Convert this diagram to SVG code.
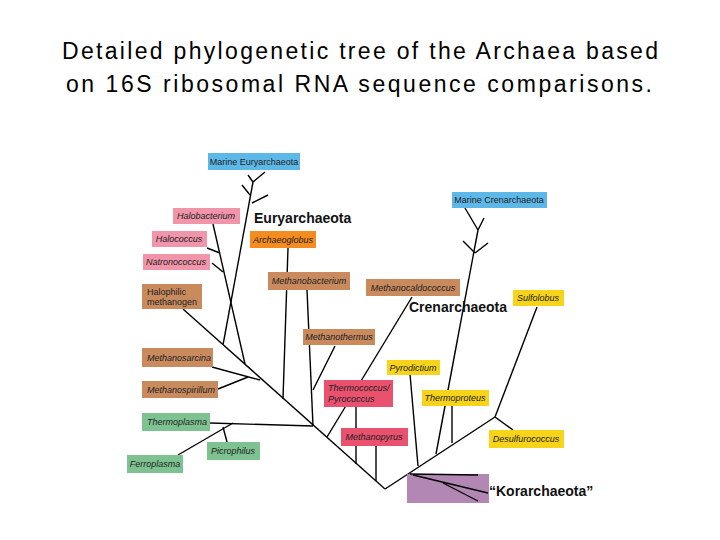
<svg xmlns="http://www.w3.org/2000/svg" width="720" height="540" viewBox="0 0 720 540">
<style>
.t{font-family:"Liberation Sans",Arial,sans-serif;fill:#000}
.b{font-family:"Liberation Sans",Arial,sans-serif;font-size:9px;font-style:italic;fill:#222}
.n{font-family:"Liberation Sans",Arial,sans-serif;font-size:9px;fill:#222}
.g{font-family:"Liberation Sans",Arial,sans-serif;font-weight:bold;fill:#111}
.blue{fill:#5db8e8}.pink{fill:#f195aa}.tan{fill:#c98b5e}.or{fill:#f58c1f}.gr{fill:#7fc292}.red{fill:#e9516f}.yel{fill:#f7d31a}.pur{fill:#b287b3}
.e line{stroke:#000;stroke-width:1.4;fill:none}
</style>
<rect width="720" height="540" fill="#fff"/>
<text class="t" x="62" y="59" font-size="23" textLength="596" lengthAdjust="spacing">Detailed phylogenetic tree of the Archaea based</text>
<text class="t" x="66" y="92" font-size="23" textLength="586" lengthAdjust="spacing">on 16S ribosomal RNA sequence comparisons.</text>

<g id="edges" class="e">
<line x1="385" y1="489" x2="183" y2="309"/>
<line x1="385" y1="489" x2="408" y2="474"/>
<line x1="408" y1="474" x2="495" y2="417"/>
<line x1="495" y1="417" x2="513" y2="430"/>
<line x1="495" y1="417" x2="537" y2="307"/>
<line x1="418" y1="466" x2="410" y2="374"/>
<line x1="436" y1="454" x2="478" y2="230"/>
<line x1="478" y1="230" x2="465" y2="208"/>
<line x1="478" y1="230" x2="484" y2="218"/>
<line x1="475" y1="253" x2="463" y2="241"/>
<line x1="475" y1="253" x2="488" y2="243"/>
<line x1="452" y1="443" x2="452" y2="403"/>
<line x1="412" y1="297" x2="327" y2="437"/>
<line x1="335" y1="346" x2="313" y2="390"/>
<line x1="307" y1="290" x2="313" y2="426"/>
<line x1="288" y1="248" x2="283" y2="399"/>
<line x1="356" y1="406" x2="356" y2="464"/>
<line x1="376" y1="446" x2="376" y2="481"/>
<line x1="253" y1="182" x2="223" y2="345"/>
<line x1="253" y1="182" x2="265" y2="172"/>
<line x1="253" y1="182" x2="248" y2="175"/>
<line x1="252" y1="203" x2="268" y2="195"/>
<line x1="242" y1="185" x2="250" y2="195"/>
<line x1="213" y1="224" x2="245" y2="364"/>
<line x1="207" y1="248" x2="220" y2="253"/>
<line x1="212" y1="263" x2="223" y2="272"/>
<line x1="212" y1="367" x2="260" y2="380"/>
<line x1="218" y1="389" x2="248" y2="377"/>
<line x1="210" y1="423" x2="313" y2="426"/>
<line x1="178" y1="455" x2="233" y2="423"/>
<line x1="227" y1="442" x2="223" y2="427"/>
</g>

<g id="marine-eury"><rect class="blue" x="208" y="153" width="92" height="17"/><text class="n" x="254" y="165" text-anchor="middle">Marine Euryarchaeota</text></g>
<g id="halobacterium"><rect class="pink" x="173" y="208" width="67" height="16"/><text class="b" x="206" y="219" text-anchor="middle">Halobacterium</text></g>
<g id="halococcus"><rect class="pink" x="152" y="231" width="55" height="16"/><text class="b" x="179" y="242" text-anchor="middle">Halococcus</text></g>
<g id="natronococcus"><rect class="pink" x="143" y="254" width="67" height="16"/><text class="b" x="176" y="265" text-anchor="middle">Natronococcus</text></g>
<g id="halophilic"><rect class="tan" x="142" y="284" width="60" height="25"/><text class="n" x="147" y="295">Halophilic</text><text class="n" x="147" y="305">methanogen</text></g>
<g id="archaeoglobus"><rect class="or" x="250" y="231" width="66" height="17"/><text class="b" x="283" y="243" text-anchor="middle">Archaeoglobus</text></g>
<g id="methanobacterium"><rect class="tan" x="268" y="272" width="82" height="18"/><text class="b" x="309" y="284" text-anchor="middle">Methanobacterium</text></g>
<g id="methanocaldococcus"><rect class="tan" x="366" y="279" width="94" height="17"/><text class="b" x="413" y="291" text-anchor="middle">Methanocaldococcus</text></g>
<g id="methanothermus"><rect class="tan" x="303" y="329" width="72" height="16"/><text class="b" x="339" y="340" text-anchor="middle">Methanothermus</text></g>
<g id="methanosarcina"><rect class="tan" x="142" y="348" width="71" height="19"/><text class="b" x="147" y="361">Methanosarcina</text></g>
<g id="methanospirillum"><rect class="tan" x="142" y="381" width="76" height="17"/><text class="b" x="147" y="393">Methanospirillum</text></g>
<g id="thermoplasma"><rect class="gr" x="142" y="413" width="68" height="18"/><text class="b" x="147" y="425">Thermoplasma</text></g>
<g id="picrophilus"><rect class="gr" x="207" y="442" width="53" height="18"/><text class="b" x="233" y="454" text-anchor="middle">Picrophilus</text></g>
<g id="ferroplasma"><rect class="gr" x="127" y="455" width="56" height="18"/><text class="b" x="155" y="467" text-anchor="middle">Ferroplasma</text></g>
<g id="thermococcus"><rect class="red" x="324" y="380" width="69" height="27"/><text class="b" x="328" y="391">Thermococcus/</text><text class="b" x="328" y="402">Pyrococcus</text></g>
<g id="methanopyrus"><rect class="red" x="341" y="428" width="67" height="18"/><text class="b" x="374" y="440" text-anchor="middle">Methanopyrus</text></g>
<g id="pyrodictium"><rect class="yel" x="387" y="360" width="53" height="15"/><text class="b" x="413" y="371" text-anchor="middle">Pyrodictium</text></g>
<g id="thermoproteus"><rect class="yel" x="422" y="390" width="67" height="16"/><text class="b" x="455" y="401" text-anchor="middle">Thermoproteus</text></g>
<g id="desulfurococcus"><rect class="yel" x="489" y="430" width="75" height="18"/><text class="b" x="526" y="442" text-anchor="middle">Desulfurococcus</text></g>
<g id="sulfolobus"><rect class="yel" x="513" y="290" width="51" height="16"/><text class="b" x="538" y="301" text-anchor="middle">Sulfolobus</text></g>
<g id="marine-cren"><rect class="blue" x="452" y="192" width="95" height="16"/><text class="n" x="499" y="203" text-anchor="middle">Marine Crenarchaeota</text></g>
<g id="korarchaeota"><rect class="pur" x="407" y="474" width="82" height="29"/></g>
<g id="edges-kor" class="e"><line x1="410" y1="474" x2="478" y2="475"/><line x1="413" y1="475" x2="488" y2="493"/><line x1="443" y1="483" x2="478" y2="501"/></g>

<text class="g" x="254" y="223" font-size="14">Euryarchaeota</text>
<text class="g" x="409" y="312" font-size="14">Crenarchaeota</text>
<text class="g" x="489" y="496" font-size="14">“Korarchaeota”</text>
</svg>
